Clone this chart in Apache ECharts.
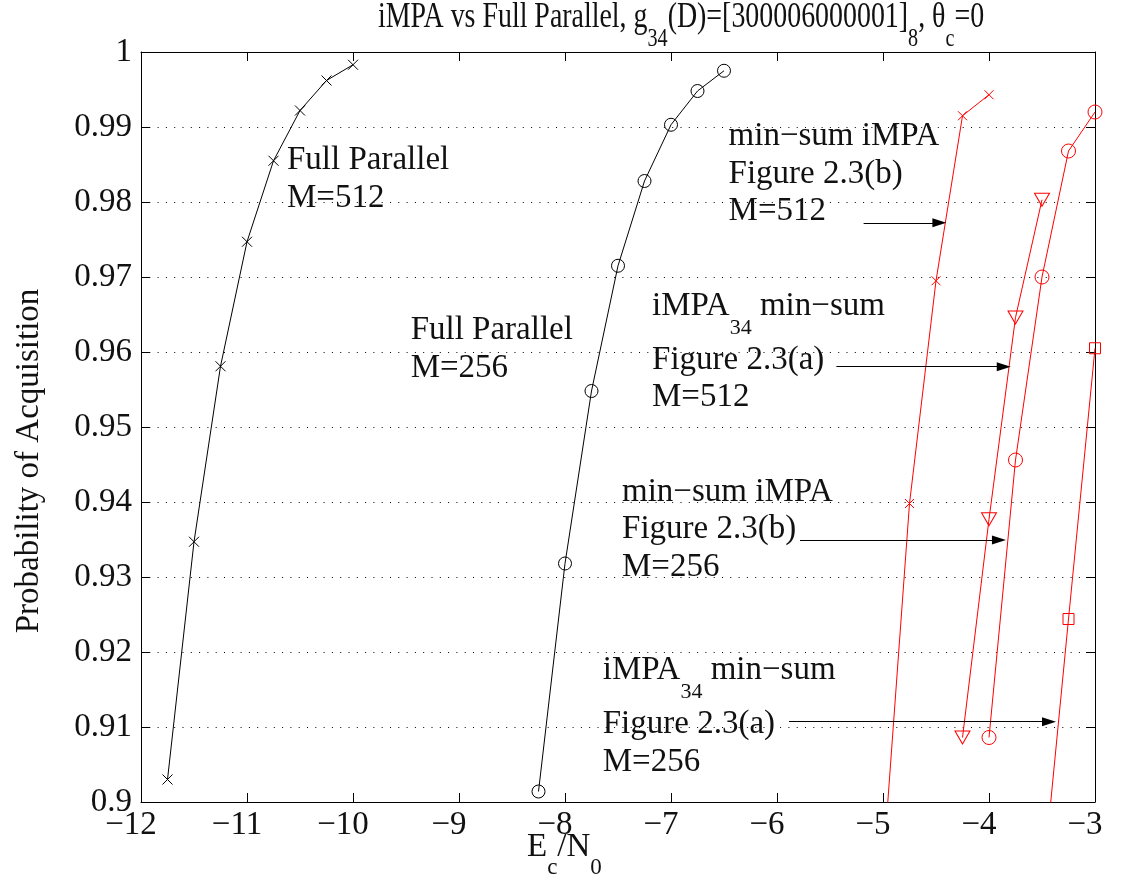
<!DOCTYPE html>
<html><head><meta charset="utf-8">
<script src="https://cdn.jsdelivr.net/npm/echarts@6/dist/echarts.min.js"></script>
<style>html,body{margin:0;padding:0;background:#fff}#c{width:1121px;height:895px}</style>
</head><body><div id="c"></div>
<script>
// ---- data ----
const fp512X = [-11.75, -11.5, -11.25, -11, -10.75, -10.5, -10.25, -10];
const fp512Y = [0.9030, 0.9347, 0.9581, 0.9747, 0.9855, 0.9922, 0.9962, 0.9983];
const fp256X = [-8.25, -8, -7.75, -7.5, -7.25, -7, -6.75, -6.5];
const fp256Y = [0.9014, 0.9318, 0.9548, 0.9715, 0.9828, 0.9903, 0.9948, 0.9975];
const msb512X = [-5, -4.75, -4.5, -4.25, -4];
const msb512Y = [0.8912, 0.9398, 0.9695, 0.9915, 0.9943];
const ia512X = [-4.25, -4, -3.75, -3.5];
const ia512Y = [0.9086, 0.9377, 0.9646, 0.9803];
const msb256X = [-4, -3.75, -3.5, -3.25, -3];
const msb256Y = [0.9086, 0.9456, 0.9700, 0.9868, 0.9920];
const ia256X = [-3.5, -3.25, -3];
const ia256Y = [0.8880, 0.9244, 0.9605];
const xTickMin = -12, xTickMax = -3, xTickStep = 1;
const yTickMin = 0.9, yTickMax = 1, yTickStep = 0.01;
// annotation arrows (data coords)
const arrowStartX = [-5.183, -5.440, -5.783, -5.887];
const arrowEndX = [-4.402, -3.795, -3.840, -3.368];
const arrowY = [0.97722, 0.95804, 0.93493, 0.91071];
// annotation texts: anchor (data coords of left / first baseline)
const noteX = [-10.623, -9.456, -6.457, -7.179, -7.462, -7.644];
const noteY = [0.98404, 0.96137, 0.98724, 0.96463, 0.93983, 0.91604];
const noteLines = [
  [["Full Parallel"], ["M=512"]],
  [["Full Parallel"], ["M=256"]],
  [["min\u2212sum iMPA"], ["Figure 2.3(b)"], ["M=512"]],
  [["iMPA", {sub: "34"}, " min\u2212sum"], ["Figure 2.3(a)"], ["M=512"]],
  [["min\u2212sum iMPA"], ["Figure 2.3(b)"], ["M=256"]],
  [["iMPA", {sub: "34"}, " min\u2212sum"], ["Figure 2.3(a)"], ["M=256"]]
];
const titleSegs = ["iMPA vs Full Parallel, g", {sub: "34"}, "(D)=[300006000001]", {sub: "8"}, ", \u03b8", {sub: "c"}, "=0"];
const xNameSegs = ["E", {sub: "c"}, "/N", {sub: "0"}];
const yName = "Probability of Acquisition";

// ---- chart ----
const FF = 'Liberation Serif';
const chart = echarts.init(document.getElementById('c'), null, {renderer: 'canvas'});
const cross = 'path://M0,0L10,10M10,0L0,10';
function mk(name, xs, ys, color, symbol, size, rotate) {
  return {
    name, type: 'line', data: xs.map((x, i) => [x, ys[i]]),
    symbol, symbolSize: size, symbolRotate: rotate || 0, showAllSymbol: true,
    lineStyle: {color, width: 1}, itemStyle: {color: 'none', borderColor: color, borderWidth: 1},
    clip: true, silent: true, animation: false, z: 3
  };
}
const series = [
  mk('Full Parallel M=512', fp512X, fp512Y, '#000', cross, 10),
  mk('Full Parallel M=256', fp256X, fp256Y, '#000', 'circle', 13),
  mk('min-sum iMPA M=512', msb512X, msb512Y, '#ff0000', cross, 9),
  mk('iMPA34 min-sum M=512', ia512X, ia512Y, '#ff0000', 'triangle', [15, 13], 180),
  mk('min-sum iMPA M=256', msb256X, msb256Y, '#ff0000', 'circle', 14),
  mk('iMPA34 min-sum M=256', ia256X, ia256Y, '#ff0000', 'rect', 11)
];
const headLen = 14, pxPerX = 106;
series[0].markLine = {
  silent: true, animation: false, symbol: ['none', 'triangle'], symbolSize: [9, headLen],
  label: {show: false}, lineStyle: {color: '#000', width: 1.2, type: 'solid'},
  emphasis: {disabled: true},
  data: arrowY.map((y, i) => [{coord: [arrowStartX[i], y]}, {coord: [arrowEndX[i] - headLen / 2 / pxPerX, y]}])
};
const axisCommon = {
  type: 'value', axisLine: {show: true, onZero: false, lineStyle: {color: '#000', width: 1}},
  axisTick: {show: true, inside: true, length: 9, lineStyle: {color: '#000', width: 1}},
  splitLine: {show: false}
};
chart.setOption({
  animation: false,
  backgroundColor: '#fff',
  textStyle: {fontFamily: FF},
  grid: {left: 141, right: 26, top: 52, bottom: 93, containLabel: false},
  xAxis: [
    Object.assign({}, axisCommon, {min: xTickMin, max: xTickMax, interval: xTickStep, position: 'bottom',
      axisLabel: {formatter: v => String(v).replace('-', '\u2212'), fontFamily: FF, fontSize: 33, color: '#111', margin: 7, padding: [0, 20, 0, 0]}}),
    Object.assign({}, axisCommon, {min: xTickMin, max: xTickMax, interval: xTickStep, position: 'top', axisLabel: {show: false}})
  ],
  yAxis: [
    Object.assign({}, axisCommon, {min: yTickMin, max: yTickMax, interval: yTickStep, position: 'left',
      axisLabel: {formatter: v => String(+v.toFixed(2)), fontFamily: FF, fontSize: 33, color: '#111', margin: 9},
      splitLine: {show: true, lineStyle: {color: '#000', width: 1, type: [1, 7.3]}}}),
    Object.assign({}, axisCommon, {min: yTickMin, max: yTickMax, interval: yTickStep, position: 'right', axisLabel: {show: false}})
  ],
  series
});

// ---- text helpers ----
const ctx = document.createElement('canvas').getContext('2d');
function tw(t, fs) { ctx.font = fs + 'px ' + FF; return ctx.measureText(t).width; }
function richLine(x0, base, segs, fs, sfs, drop, sx) {
  const children = []; let x = 0;
  segs.forEach(s => {
    const isSub = typeof s === 'object';
    const t = isSub ? s.sub : s;
    const f = isSub ? sfs : fs;
    const by = isSub ? drop : 0;
    children.push({type: 'text', x, y: by - 0.34 * f,
      style: {text: t, fontSize: f, fontFamily: FF, fill: '#111', verticalAlign: 'middle', align: 'left'}});
    x += tw(t, f);
  });
  return {type: 'group', x: x0, y: base, scaleX: sx || 1, silent: true, children};
}
const g = [];
noteLines.forEach((lines, i) => {
  const p = chart.convertToPixel({gridIndex: 0}, [noteX[i], noteY[i]]);
  let base = p[1];
  lines.forEach(segs => {
    g.push(richLine(p[0], base, segs, 33, 22, 18));
    base += segs.some(s => typeof s === 'object') ? 54 : 37.5;
  });
});
g.push(richLine(378, 30, titleSegs, 36, 26, 18, 0.775));
g.push(richLine(527, 859, xNameSegs, 33, 23, 17));
g.push({type: 'text', x: 29, y: 461, rotation: Math.PI / 2, silent: true,
  style: {text: yName, fontSize: 33, fontFamily: FF, fill: '#111', align: 'center', verticalAlign: 'middle'}});
chart.setOption({graphic: g});
</script>
</body></html>
